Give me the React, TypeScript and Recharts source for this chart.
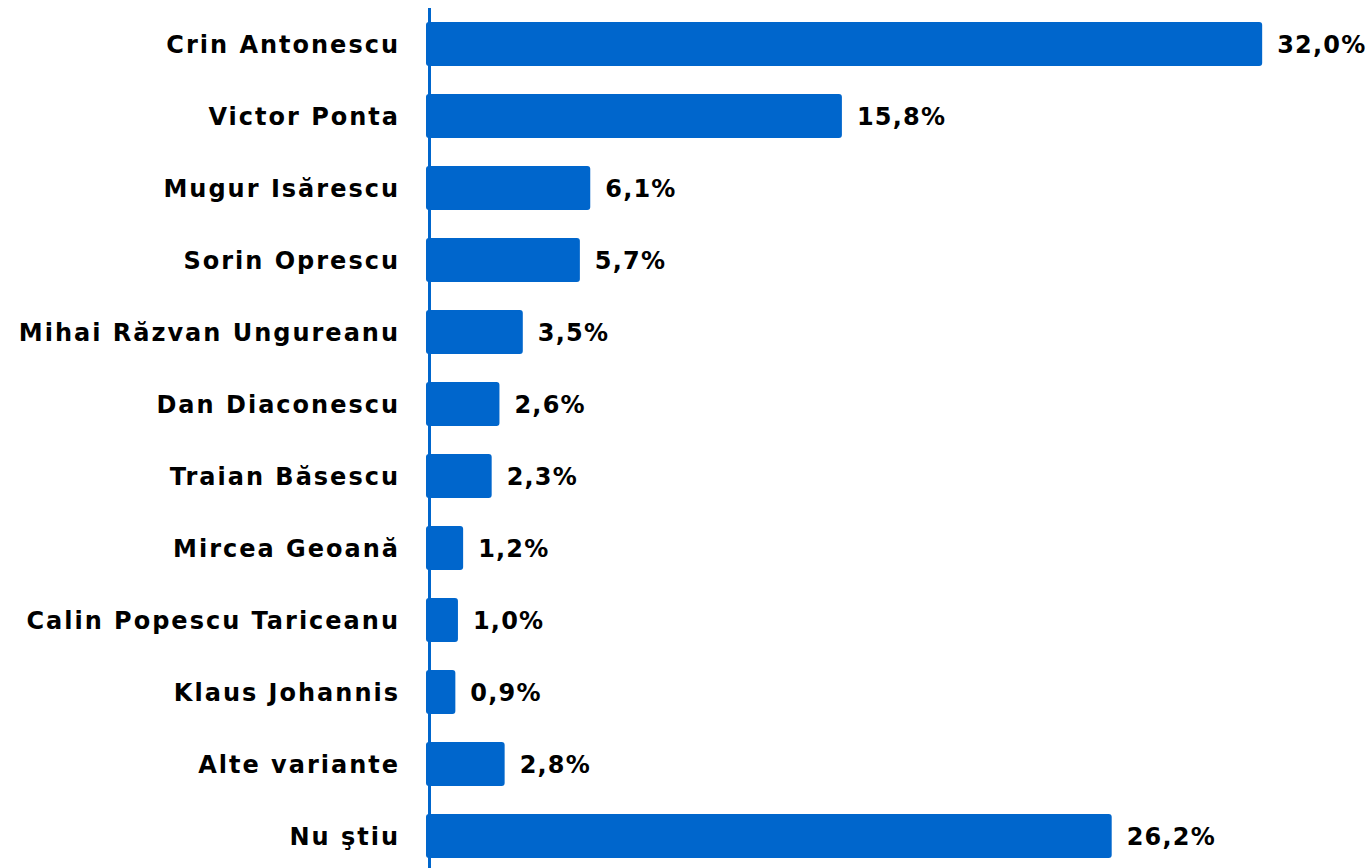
import { BarChart, Bar, XAxis, YAxis, LabelList, Rectangle } from 'recharts';

const candidates = [
  'Crin Antonescu',
  'Victor Ponta',
  'Mugur Isărescu',
  'Sorin Oprescu',
  'Mihai Răzvan Ungureanu',
  'Dan Diaconescu',
  'Traian Băsescu',
  'Mircea Geoană',
  'Calin Popescu Tariceanu',
  'Klaus Johannis',
  'Alte variante',
  'Nu ştiu',
];

const procente = [32.0, 15.8, 6.1, 5.7, 3.5, 2.6, 2.3, 1.2, 1.0, 0.9, 2.8, 26.2];

const data = candidates.map((nume, i) => ({ nume, valoare: procente[i] }));

const font = '"DejaVu Sans", sans-serif';

// bars poke a few px left of the axis, like in the original export
const BarShape = (props: any) => {
  const { x, y, width, height, fill } = props;
  return <Rectangle x={x - 6} y={y} width={width + 6} height={height} fill={fill} radius={3} />;
};

const App = () => {
  return (
    <div style={{ position: 'fixed', top: 0, left: 0, background: '#fff' }}>
      <BarChart
        layout='vertical'
        data={data}
        width={1370}
        height={880}
        margin={{ top: 8, right: 30, bottom: 8, left: 0 }}
        barCategoryGap={28}
      >
        <XAxis type='number' domain={[0, 35]} hide />
        <YAxis
          type='category'
          dataKey='nume'
          width={432}
          tickLine={false}
          axisLine={{ stroke: '#0066CC', strokeWidth: 3, transform: 'translate(-2.5,0)' }}
          tick={{ fill: '#000', fontSize: 24, fontWeight: 'bold', fontFamily: font, letterSpacing: 2 }}
          tickMargin={26}
        />
        <Bar dataKey='valoare' fill='#0066CC' barSize={44} shape={BarShape} isAnimationActive={false}>
          <LabelList
            dataKey='valoare'
            position='right'
            offset={15}
            formatter={(v: any) => Number(v).toFixed(1).replace('.', ',') + '%'}
            style={{ fill: '#000', fontSize: 24, fontWeight: 'bold', fontFamily: font, letterSpacing: 1.2 }}
          />
        </Bar>
      </BarChart>
    </div>
  );
};

export default App;
